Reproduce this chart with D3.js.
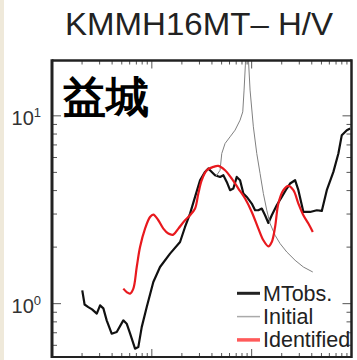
<!DOCTYPE html>
<html>
<head>
<meta charset="utf-8">
<script src="https://cdn.jsdelivr.net/npm/d3@7"></script>
<style>
  html, body { margin: 0; padding: 0; background: #fff; }
  svg { display: block; }
  text { font-family: "Liberation Sans", Arial, Helvetica, sans-serif; }
</style>
</head>
<body>
<svg id="chart" width="357" height="360"></svg>
<script>
// H/V spectral ratio at station KMMH16 (Mashiki)
const titleText = "KMMH16MT\u2013 H/V";
const siteName = "益城";

// Observed microtremor H/V
const mtFreq = [0.201,0.212,0.231,0.252,0.281,0.303,0.327,0.353,0.396,0.445,0.518,0.560,0.605,0.679,0.732,0.792,0.889,1.035,1.208,1.522,1.917,2.151,2.414,2.710,3.041,3.413,3.683,3.984,4.298,4.825,5.205,5.630,6.075,6.556,7.091,7.653,8.258,8.931,10.02,10.82,11.67,12.63,13.62,14.70,15.90,17.84,20.03,22.48,24.26,27.22,29.37,32.96,38.47,44.91,50.40,56.56,65.86,73.90,79.93,89.74,96.83];
const mtHV   = [1.177,0.99,0.959,0.932,0.885,0.979,0.944,0.815,0.692,0.706,0.815,0.782,0.695,0.576,0.587,0.750,0.959,1.303,1.567,1.847,2.130,2.560,3.018,3.700,4.542,5.029,5.243,5.029,4.829,4.729,4.829,4.448,4.018,4.102,4.729,4.542,3.858,3.700,3.412,3.143,3.143,3.209,2.956,2.689,2.956,3.342,3.700,4.102,4.362,4.542,4.018,3.078,3.078,3.143,3.116,4.018,5.029,6.30,7.89,8.39,8.57];

// H/V of the initial velocity model
const initFreq = [4.399,4.825,5.016,5.414,6.075,6.818,7.653,8.143,8.392,8.649,8.95,9.311,9.64,10.40,11.25,12.14,13.10,14.17,15.29,17.16,19.26,22.48,27.22,32.96,40.95];
const initHV   = [4.771,5.135,6.30,7.127,7.73,8.39,9.487,10.50,13.71,18.63,35,19.32,13.71,8.74,6.30,4.932,3.858,3.143,2.670,2.312,2.088,1.884,1.702,1.567,1.474];

// H/V of the identified velocity model
const idFreq = [0.518,0.560,0.605,0.653,0.706,0.762,0.855,0.959,1.035,1.162,1.304,1.463,1.642,1.843,2.151,2.414,2.710,2.923,3.162,3.549,4.133,4.638,5.414,6.318,7.357,8.588,10.02,11.67,13.10,14.70,15.90,17.16,18.52,20.78,23.32,26.17,29.37,32.96,36.99,40.95];
const idHV   = [1.202,1.153,1.131,1.202,1.567,2.003,2.510,2.894,2.981,2.780,2.510,2.361,2.332,2.510,2.780,2.956,3.209,3.858,4.542,5.135,5.347,5.414,5.135,4.637,4.102,3.628,3.078,2.510,2.175,2.020,2.130,2.560,3.412,4.018,4.236,4.018,3.412,2.956,2.670,2.408];

const legendLabels = ["MTobs.", "Initial", "Identified"];
const yTickLabels = [{v: 10, exp: "1"}, {v: 1, exp: "0"}];

const svg = d3.select("#chart");

// strip of page colour on the left edge
svg.append("rect").attr("x", 0).attr("y", 0).attr("width", 4).attr("height", 360).attr("fill", "#efe9da");

const pL = 52, pR = 351.5, pT = 60.5, pB = 357;
const x = d3.scaleLog().domain([0.1, 100]).range([pL, pR]);
const y = d3.scaleLog().domain([0.52, 20]).range([pB, 59.3]);

// title
svg.append("text")
  .attr("x", 65).attr("y", 35)
  .attr("textLength", 268).attr("lengthAdjust", "spacingAndGlyphs")
  .attr("font-size", 32).attr("fill", "#222")
  .text(titleText);

svg.append("defs").append("clipPath").attr("id", "plotClip")
  .append("rect").attr("x", pL).attr("y", pT).attr("width", pR - pL).attr("height", pB - pT);

// ticks (inward on all four sides)
const isMajor = v => Math.abs(Math.log10(v) - Math.round(Math.log10(v))) < 1e-6;
const tickG = svg.append("g").attr("stroke", "#555").attr("stroke-width", 1);
x.ticks().forEach(v => {
  const px = x(v), len = isMajor(v) ? 8 : 4;
  if (px <= pL + 1 || px >= pR - 1) return;
  tickG.append("line").attr("x1", px).attr("x2", px).attr("y1", pT).attr("y2", pT + len);
  tickG.append("line").attr("x1", px).attr("x2", px).attr("y1", pB).attr("y2", pB - len);
});
y.ticks().forEach(v => {
  const py = y(v), len = isMajor(v) ? 9 : 5;
  if (py <= pT + 1 || py >= pB - 1) return;
  tickG.append("line").attr("y1", py).attr("y2", py).attr("x1", pL).attr("x2", pL + len);
  tickG.append("line").attr("y1", py).attr("y2", py).attr("x1", pR).attr("x2", pR - len);
});

// y tick labels 10^1, 10^0
yTickLabels.forEach(d => {
  const t = svg.append("text")
    .attr("x", 41).attr("y", y(d.v) + 9.5)
    .attr("text-anchor", "end").attr("font-size", 20).attr("fill", "#333");
  t.append("tspan").text("10");
  t.append("tspan").attr("font-size", 13).attr("dy", -8.5).text(d.exp);
});

// curves
const plot = svg.append("g").attr("clip-path", "url(#plotClip)");
const lineLin = d3.line().x(d => x(d[0])).y(d => y(d[1]));
const lineSmooth = d3.line().x(d => x(d[0])).y(d => y(d[1])).curve(d3.curveCatmullRom.alpha(0.5));

plot.append("path")
  .datum(d3.zip(mtFreq, mtHV))
  .attr("d", lineLin).attr("fill", "none").attr("stroke", "#111").attr("stroke-width", 2.2)
  .attr("stroke-linejoin", "round");

plot.append("path")
  .datum(d3.zip(initFreq, initHV))
  .attr("d", lineLin).attr("fill", "none").attr("stroke", "#808080").attr("stroke-width", 1);

plot.append("path")
  .datum(d3.zip(idFreq, idHV))
  .attr("d", lineSmooth).attr("fill", "none").attr("stroke", "#e8191e").attr("stroke-width", 2.2);

// site name
svg.append("text")
  .attr("x", 63).attr("y", 112)
  .attr("font-family", "'Noto Sans CJK JP', sans-serif")
  .attr("font-weight", "bold").attr("font-size", 43).attr("fill", "#000")
  .text(siteName);

// legend
const legendStyle = [
  {color: "#222", width: 3},
  {color: "#aaa", width: 1.5},
  {color: "#ff5a5a", width: 3.5}
];
legendLabels.forEach((lab, i) => {
  const ly = 293.3 + i * 23.3;
  svg.append("line").attr("x1", 237).attr("x2", 260).attr("y1", ly).attr("y2", ly)
    .attr("stroke", legendStyle[i].color).attr("stroke-width", legendStyle[i].width);
  svg.append("text").attr("x", 263).attr("y", ly + 7.5)
    .attr("font-size", 21.5).attr("fill", "#222").text(lab);
});

// frame
const frame = svg.append("g").attr("stroke", "#222").attr("fill", "none");
frame.append("line").attr("x1", pL).attr("x2", pL).attr("y1", pT - 1.2).attr("y2", pB + 1).attr("stroke-width", 3);
frame.append("line").attr("x1", pL).attr("x2", pR).attr("y1", pT).attr("y2", pT).attr("stroke-width", 2.5);
frame.append("line").attr("x1", pR).attr("x2", pR).attr("y1", pT - 1.2).attr("y2", pB + 1).attr("stroke-width", 2.5);
frame.append("line").attr("x1", pL).attr("x2", pR).attr("y1", pB).attr("y2", pB).attr("stroke-width", 2);
</script>
</body>
</html>
